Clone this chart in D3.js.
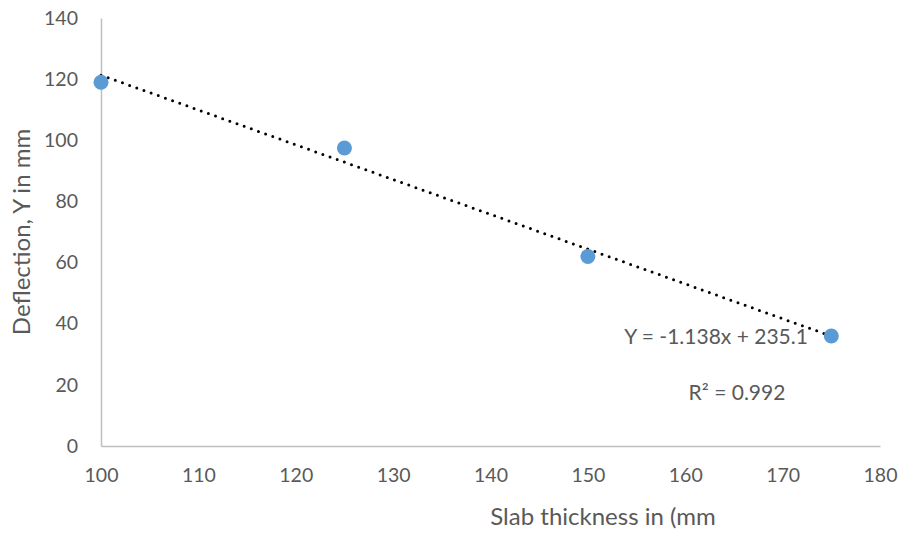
<!DOCTYPE html>
<html>
<head>
<meta charset="utf-8">
<script src="https://cdn.jsdelivr.net/npm/d3@7"></script>
<style>
  body { margin: 0; background: #fff; }
  text { font-family: Lato, "Open Sans", sans-serif; fill: #595959; }
</style>
</head>
<body>
<div id="chart"></div>
<script>
// Slab thickness vs deflection, with linear trendline

const thickness = [100, 125, 150, 175];
const deflection = [119, 97.5, 62, 36];
const xTicks = [100, 110, 120, 130, 140, 150, 160, 170, 180];
const yTicks = [0, 20, 40, 60, 80, 100, 120, 140];
const slope = -1.138, intercept = 235.1;
const eqLabel = "Y = -1.138x + 235.1";
const r2Label = "R² = 0.992";

const W = 903, H = 533;
const margin = { top: 18, right: 23, bottom: 87, left: 101 };
const width = W - margin.left - margin.right;
const height = H - margin.top - margin.bottom;

const svg = d3.select("#chart")
    .append("svg")
    .attr("width", W)
    .attr("height", H);

const g = svg.append("g")
    .attr("transform", `translate(${margin.left},${margin.top})`);

const x = d3.scaleLinear().domain([100, 180]).range([0, width]);
const y = d3.scaleLinear().domain([0, 140]).range([height, 0]);

// Axes
const xAxis = g.append("g")
    .attr("transform", `translate(0,${height})`)
    .call(d3.axisBottom(x).tickValues(xTicks).tickSize(0).tickPadding(22));

const yAxis = g.append("g")
    .call(d3.axisLeft(y).tickValues(yTicks).tickSize(0).tickPadding(23));

[xAxis, yAxis].forEach(a => {
    a.select(".domain").attr("stroke", "#bfbfbf").attr("stroke-width", 1.5);
    a.selectAll("text").style("font-size", "19.5px").attr("fill", "#595959");
});

// Axis titles
svg.append("text")
    .attr("x", 603)
    .attr("y", 525)
    .attr("text-anchor", "middle")
    .style("font-size", "24px")
    .text("Slab thickness in (mm");

svg.append("text")
    .attr("transform", "rotate(-90)")
    .attr("x", -232)
    .attr("y", 30)
    .attr("text-anchor", "middle")
    .style("font-size", "24px")
    .text("Deflection, Y in mm");

// Trendline (dotted)
const x0 = d3.min(thickness), x1 = d3.max(thickness);
g.append("line")
    .attr("x1", x(x0))
    .attr("y1", y(slope * x0 + intercept))
    .attr("x2", x(x1))
    .attr("y2", y(slope * x1 + intercept))
    .attr("stroke", "#000")
    .attr("stroke-width", 3)
    .attr("stroke-linecap", "round")
    .attr("stroke-dasharray", "0 7.6");

// Points
g.selectAll("circle")
    .data(thickness.map((t, i) => ({ t, d: deflection[i] })))
    .enter()
    .append("circle")
    .attr("cx", d => x(d.t))
    .attr("cy", d => y(d.d))
    .attr("r", 7.5)
    .attr("fill", "#5b9bd5");

// Equation labels
svg.append("text")
    .attr("x", 716)
    .attr("y", 344)
    .attr("text-anchor", "middle")
    .style("font-size", "21px")
    .text(eqLabel);

svg.append("text")
    .attr("x", 737)
    .attr("y", 400)
    .attr("text-anchor", "middle")
    .style("font-size", "21px")
    .text(r2Label);
</script>
</body>
</html>
